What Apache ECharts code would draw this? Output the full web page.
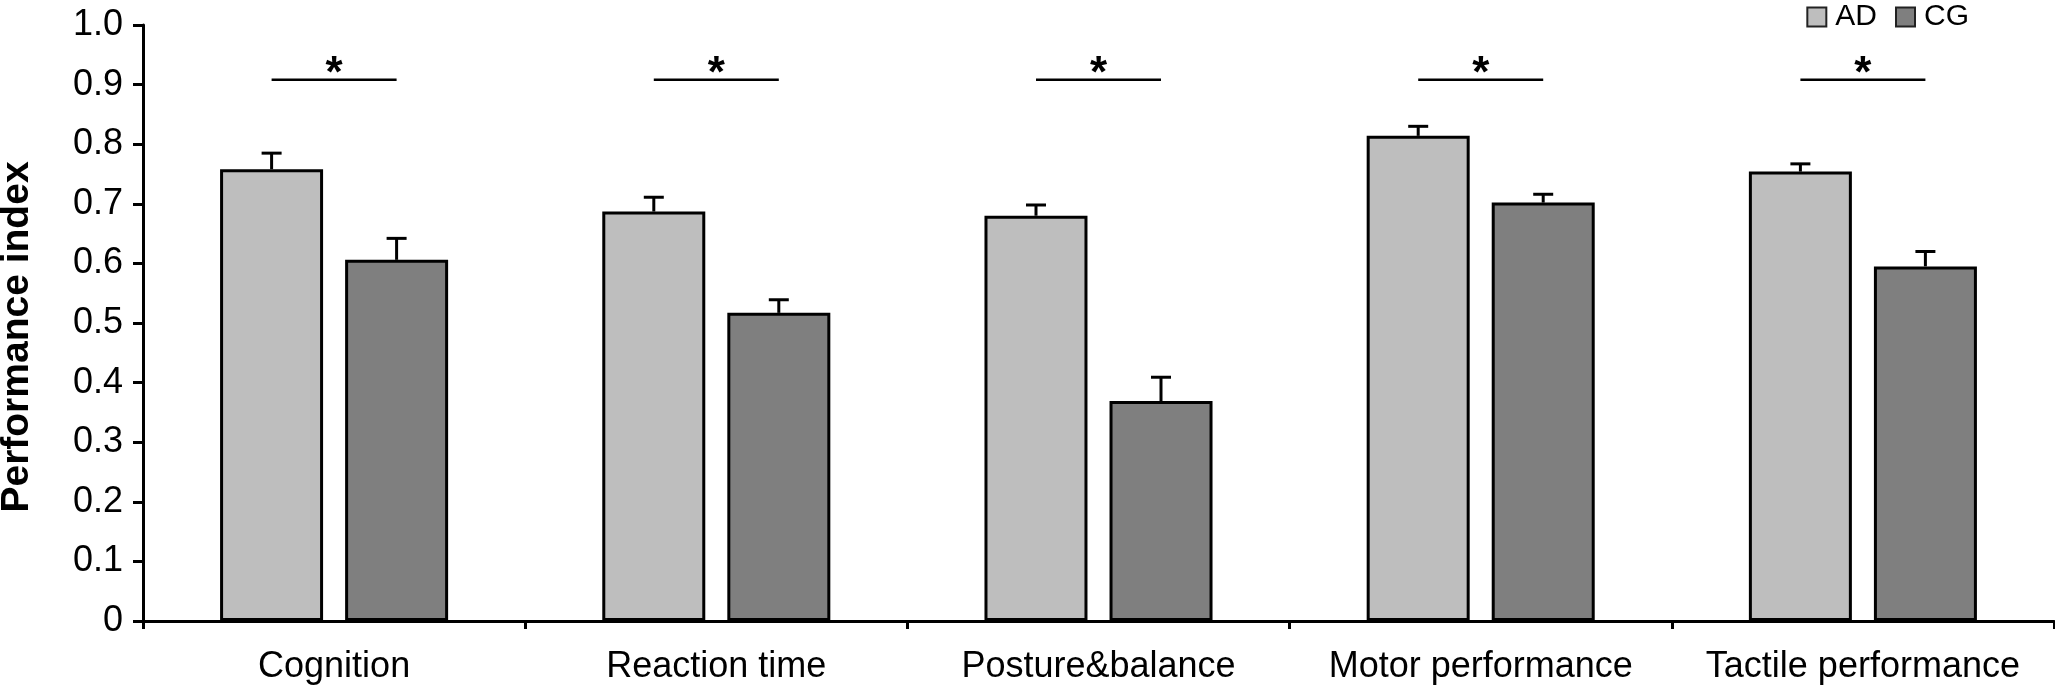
<!DOCTYPE html>
<html>
<head>
<meta charset="utf-8">
<script src="https://cdn.jsdelivr.net/npm/echarts@6/dist/echarts.min.js"></script>
<style>
  html, body { margin: 0; padding: 0; background: #fff; }
  #chart { width: 2055px; height: 693px; }
</style>
</head>
<body>
<div id="chart"></div>
<script>
// ---- data ----
const categories = ['Cognition', 'Reaction time', 'Posture&balance', 'Motor performance', 'Tactile performance'];
const seriesNames = ['AD', 'CG'];
const adValues = [0.758, 0.687, 0.680, 0.814, 0.754];
const adErrors = [0.027, 0.024, 0.018, 0.016, 0.013];
const cgValues = [0.606, 0.517, 0.369, 0.702, 0.595];
const cgErrors = [0.036, 0.022, 0.040, 0.014, 0.025];
const sigLevels = [0.908, 0.908, 0.908, 0.908, 0.908];
const sigMarks = ['*', '*', '*', '*', '*'];
const yTicks = ['0', '0.1', '0.2', '0.3', '0.4', '0.5', '0.6', '0.7', '0.8', '0.9', '1.0'];

// ---- styling ----
const FONT = '"Liberation Sans", Arial, Helvetica, sans-serif';
const BAR_W = 103;
const BAR_GAP_PX = 22;
const OFFSET = BAR_W / 2 + BAR_GAP_PX / 2;

const errData = [];
adValues.forEach((v, i) => errData.push([i, v, v + adErrors[i], -1]));
cgValues.forEach((v, i) => errData.push([i, v, v + cgErrors[i], 1]));

const sigData = sigLevels.map((s, i) => [i, s]);

const chart = echarts.init(document.getElementById('chart'), null, { renderer: 'canvas' });

chart.setOption({
  animation: false,
  backgroundColor: '#ffffff',
  grid: { left: 143, right: 1, top: 25, bottom: 72, containLabel: false, outerBoundsMode: 'none' },
  legend: {
    data: seriesNames,
    right: 81,
    top: -3,
    icon: 'rect',
    itemWidth: 19,
    itemHeight: 19,
    itemGap: 18,
    textStyle: { fontFamily: FONT, fontSize: 30, color: '#000', padding: [0, 0, 0, 4] },
    itemStyle: { borderColor: '#222', borderWidth: 2 }
  },
  xAxis: {
    type: 'category',
    data: categories,
    axisLine: { show: true, lineStyle: { color: '#000', width: 3 } },
    axisTick: { show: true, length: 8, lineStyle: { color: '#000', width: 3 } },
    axisLabel: { interval: 0, fontFamily: FONT, fontSize: 36, color: '#000', margin: 28 },
    splitLine: { show: false }
  },
  yAxis: {
    type: 'value',
    min: 0,
    max: 1,
    interval: 0.1,
    name: 'Performance index',
    nameLocation: 'middle',
    nameGap: 106,
    nameTextStyle: { fontFamily: FONT, fontSize: 39, fontWeight: 'bold', color: '#000', padding: [0, 28, 0, 0] },
    axisLine: { show: true, lineStyle: { color: '#000', width: 3 } },
    axisTick: { show: true, length: 10, lineStyle: { color: '#000', width: 3 } },
    axisLabel: {
      fontFamily: FONT, fontSize: 36, color: '#000', margin: 20,
      formatter: function (v) { return yTicks[Math.round(v * 10)]; }
    },
    splitLine: { show: false }
  },
  series: [
    {
      name: 'AD',
      type: 'bar',
      data: adValues,
      barWidth: BAR_W,
      barGap: (BAR_GAP_PX / BAR_W * 100).toFixed(1) + '%',
      itemStyle: { color: '#bebebe', borderColor: '#000', borderWidth: 3 }
    },
    {
      name: 'CG',
      type: 'bar',
      data: cgValues,
      barWidth: BAR_W,
      itemStyle: { color: '#7f7f7f', borderColor: '#000', borderWidth: 3 }
    },
    {
      name: 'errors',
      type: 'custom',
      data: errData,
      encode: { x: 0, y: 1 },
      z: 5,
      renderItem: function (params, api) {
        const base = api.coord([api.value(0), api.value(1)]);
        const top = api.coord([api.value(0), api.value(2)]);
        const x = base[0] + api.value(3) * OFFSET;
        const style = { stroke: '#000', lineWidth: 3, fill: null };
        return {
          type: 'group',
          children: [
            { type: 'line', shape: { x1: x, y1: base[1], x2: x, y2: top[1] }, style: style },
            { type: 'line', shape: { x1: x - 10, y1: top[1], x2: x + 10, y2: top[1] }, style: style }
          ]
        };
      }
    },
    {
      name: 'significance',
      type: 'custom',
      data: sigData,
      encode: { x: 0, y: 1 },
      z: 5,
      renderItem: function (params, api) {
        const p = api.coord([api.value(0), api.value(1)]);
        const mark = sigMarks[params.dataIndex];
        return {
          type: 'group',
          children: [
            { type: 'line', shape: { x1: p[0] - OFFSET, y1: p[1], x2: p[0] + OFFSET, y2: p[1] },
              style: { stroke: '#000', lineWidth: 2.5 } },
            { type: 'text', x: p[0], y: p[1] + 17,
              style: { text: mark, fontFamily: FONT, fontSize: 44, fontWeight: 'bold', fill: '#000',
                       align: 'center', verticalAlign: 'bottom' } }
          ]
        };
      }
    }
  ]
});
</script>
</body>
</html>
